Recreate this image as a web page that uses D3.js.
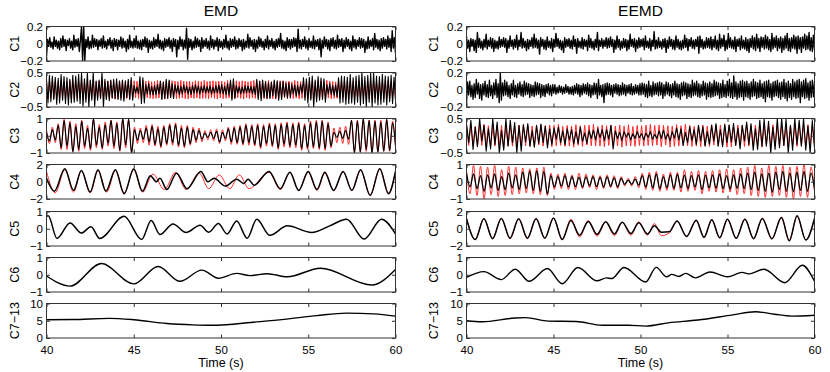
<!DOCTYPE html>
<html>
<head>
<meta charset="UTF-8">
<title>EMD / EEMD</title>
<script src="https://cdn.jsdelivr.net/npm/d3@7"></script>
<style>
  body { margin:0; background:#fff; }
  svg { display:block; font-family:"Liberation Sans", Arial, sans-serif; }
  .frame { fill:none; stroke:#333; stroke-width:1; }
  .tick line { stroke:#333; }
  .trace { fill:none; stroke-linejoin:round; }
</style>
</head>
<body>
<svg id="chart" width="830" height="372"></svg>
<script>
// ---------- data ----------
var titles = ["EMD", "EEMD"];
var rowNames = ["C1", "C2", "C3", "C4", "C5", "C6", "C7\u221213"];
var xTicks = [40, 45, 50, 55, 60];
var tk02 = [-0.2, 0, 0.2], lb02 = ["\u22120.2", "0", "0.2"];
var tk05 = [-0.5, 0, 0.5], lb05 = ["\u22120.5", "0", "0.5"];
var tk1 = [-1, 0, 1], lb1 = ["\u22121", "0", "1"];
var tk2 = [-2, 0, 2], lb2 = ["\u22122", "0", "2"];
var tk10 = [0, 5, 10], lb10 = ["0", "5", "10"];

// evenly sampled traces 40..60 s, values in hundredths (one row = one second)
var emdC1 = [-15,5,-3,7,-4,2,-6,8,-3,4,-5,3,-7,6,-4,9,
-3,5,-8,4,-2,6,-5,3,-7,10,-4,5,-3,6,-9,4,
20,-20,20,-20,5,-4,8,-6,3,-5,10,-4,6,-3,5,-7,
4,-3,6,-5,9,-4,3,-6,5,-2,7,-5,4,-8,6,-3,
5,-7,4,-3,8,-5,6,-4,3,-9,5,-6,10,-4,3,-5,
6,-4,9,-5,3,-6,4,-7,5,-3,8,-4,6,-10,4,-5,
3,-6,7,-4,5,-3,11,-5,4,-6,3,-8,6,-4,5,-3,
7,-5,4,-9,6,-3,5,-15,4,-6,8,-3,5,-7,4,-5,
18,-18,6,-4,5,-7,3,-5,8,-4,6,-3,4,-9,7,-5,
4,-3,6,-5,3,-7,9,-4,5,-6,4,-3,7,-8,5,-4,
3,-6,5,-4,10,-5,3,-7,6,-4,5,-3,8,-6,4,-5,
6,-3,4,-8,5,-6,3,-4,11,-5,7,-3,4,-6,5,-9,
4,-5,8,-3,6,-4,3,-7,5,-4,9,-6,4,-3,6,-5,
3,-7,5,-4,6,-3,12,-5,4,-6,3,-8,7,-4,5,-6,
5,-4,7,-3,6,-9,17,-5,4,-6,5,-3,8,-5,4,-7,
6,-4,3,-5,9,-6,4,-3,5,-7,6,-15,4,-5,8,-3,
5,-6,4,-8,6,-3,7,-5,4,-6,10,-4,5,-3,6,-9,
4,-5,7,-3,5,-6,3,-8,9,-4,5,-6,4,-3,7,-5,
6,-4,5,-10,3,-6,8,-5,4,-3,6,-7,12,-4,5,-6,
4,-8,6,-5,7,-3,5,-6,9,-4,6,-9,15,-5,7,-11];

var emdC2 = [30,-38,42,-35,40,-28,36,-42,33,-38,44,-30,
38,-40,35,-44,30,-38,42,-36,40,-33,45,-40,
50,-48,32,-36,50,-50,28,-30,50,-48,25,-30,
28,-25,50,-50,30,-28,25,-32,28,-24,30,-26,
32,-28,25,-30,28,-33,26,-22,30,-28,35,-30,
12,-10,8,-12,38,-40,35,-38,15,-12,18,-14,
10,-15,12,-14,16,-12,25,-28,22,-26,30,-24,
28,-22,18,-25,14,-10,12,-15,10,-12,14,-8,
10,-12,8,-14,12,-10,15,-9,11,-13,10,-8,
12,-10,9,-8,11,-13,7,-10,12,-9,14,-11,
15,-12,10,-14,18,-16,28,-30,32,-25,12,-10,
9,-12,8,-10,12,-9,11,-8,10,-12,9,-14,
30,-28,25,-32,28,-22,24,-26,20,-25,22,-18,
28,-24,26,-30,22,-28,25,-20,18,-24,20,-22,
15,-12,14,-18,12,-15,16,-10,35,-30,32,-38,
36,-30,40,-50,28,-35,38,-30,34,-28,32,-36,
15,-12,18,-14,12,-16,14,-20,35,-38,40,-36,
38,-42,36,-40,44,-38,35,-42,40,-36,42,-45,
50,-40,38,-50,42,-36,48,-50,50,-38,40,-44,
38,-42,45,-36,40,-44,38,-35,42,-40,36,-30];

var emdC2Red = [24,-26,25,-23,27,-25,24,-26,23,-25,26,-24,
25,-27,24,-25,26,-23,25,-26,27,-24,23,-25,
26,-24,25,-27,23,-25,26,-24,25,-26,24,-23,
25,-25,27,-24,24,-26,25,-23,26,-25,23,-27,
24,-25,26,-24,25,-27,23,-25,24,-26,27,-24,
26,-23,25,-26,24,-25,27,-24,25,-23,26,-25,
23,-26,24,-25,27,-24,25,-26,23,-25,24,-27,
25,-24,26,-23,25,-26,24,-25,27,-24,25,-26,
24,-27,25,-24,23,-25,26,-24,25,-26,24,-25,
27,-25,24,-26,25,-23,26,-25,24,-27,25,-24,
25,-26,23,-25,27,-24,25,-26,24,-25,26,-23,
24,-25,26,-27,25,-24,23,-26,25,-24,27,-25,
26,-24,25,-23,24,-26,25,-25,27,-24,23,-26,
25,-27,24,-25,26,-24,25,-23,24,-26,25,-25,
23,-25,27,-24,25,-26,24,-25,26,-23,25,-27,
24,-26,25,-24,23,-25,26,-27,25,-24,24,-26,
27,-24,25,-26,24,-25,23,-25,26,-24,25,-23,
25,-25,24,-27,26,-24,25,-26,24,-25,27,-24,
24,-26,25,-23,25,-27,24,-25,26,-24,23,-25,
26,-25,24,-26,25,-24,27,-25,24,-26,25,-24];

var emdC3 = [20,-30,35,-25,60,-70,
90,-60,75,-95,55,-80,
85,-60,45,-75,100,-55,
50,-70,65,-45,90,-60,
70,-85,100,-55,95,-100,
35,-25,30,-20,45,-35,
55,-50,40,-60,50,-45,
60,-40,65,-55,45,-60,
50,-45,35,-25,30,-20,
15,-10,20,-15,25,-35,
20,-15,40,-35,45,-40,
50,-45,60,-40,55,-50,
60,-65,55,-45,65,-55,
60,-70,65,-50,70,-60,
65,-55,70,-75,60,-70,
75,-65,80,-70,85,-75,
70,-60,20,-10,25,-15,
30,-20,90,-100,85,-95,
100,-80,90,-100,85,-95,
80,-90,95,-85,75,-55];

var emdC3Red = [35,-45,50,-40,70,-80,
95,-80,85,-90,70,-90,
90,-75,60,-85,95,-70,
65,-80,80,-60,90,-75,
80,-90,95,-70,95,-95,
50,-45,45,-40,60,-55,
65,-60,55,-70,60,-55,
70,-55,75,-65,60,-70,
60,-55,50,-40,45,-35,
30,-25,35,-30,40,-45,
35,-30,50,-50,55,-50,
60,-55,70,-55,65,-60,
70,-75,65,-60,75,-65,
70,-80,75,-65,80,-70,
75,-70,80,-85,70,-80,
85,-75,90,-80,90,-85,
80,-70,45,-40,50,-45,
55,-50,90,-95,90,-95,
95,-90,90,-95,90,-95,
90,-90,95,-90,85,-70];

// extrema of the slower traces: time (s) / value
var emdC4t = [40,40.45,41.05,41.55,42.0,42.5,42.95,43.4,43.95,44.45,45.0,45.5,45.95,46.3,46.5,46.9,47.45,48.05,48.85,49.25,49.6,50.25,50.9,51.3,51.55,51.9,52.75,53.4,53.95,54.45,55.0,55.5,55.95,56.45,57.0,57.5,58.0,58.55,59.1,59.6,60];
var emdC4v = [0.4,-1.1,1.5,-1.0,1.3,-1.2,1.4,-1.1,1.4,-1.4,1.5,-1.1,0.7,0.0,0.4,-0.9,1.0,-0.8,1.2,0.0,0.4,-0.5,0.3,-0.2,0.3,-0.4,1.2,-0.8,1.1,-1.0,1.2,-0.9,1.1,-1.0,1.2,-1.0,1.4,-1.6,1.5,-1.4,1.2];
var emdC4Rt = [40,40.5,41.05,41.55,42.0,42.5,42.95,43.45,43.95,44.45,45.0,45.5,46.1,46.75,47.4,48.0,48.75,49.3,49.9,50.5,51.05,51.6,52.75,53.4,53.95,54.45,55.0,55.5,55.95,56.45,57.0,57.5,58.0,58.55,59.1,59.6,60];
var emdC4Rv = [1.2,-1.3,1.4,-1.2,1.3,-1.3,1.3,-1.2,1.3,-1.3,1.4,-1.2,0.9,-0.9,1.1,-0.9,1.0,-0.8,0.8,-0.8,0.8,-0.8,1.1,-0.9,1.1,-1.0,1.1,-1.0,1.0,-1.0,1.1,-1.0,1.3,-1.5,1.5,-1.3,1.2];
var emdC5t = [40,40.1,40.6,41.35,42.0,42.55,43.05,44.45,45.45,46.0,46.5,47.25,48.0,48.8,49.3,49.85,50.35,50.9,51.5,52.05,52.8,53.8,55.2,56.2,57.2,58.2,59.2,60];
var emdC5v = [0.72,0.75,-0.56,0.33,-0.25,0.12,-0.56,0.72,-0.62,0.48,-0.33,0.28,-0.22,0.2,-0.2,0.3,-0.3,0.45,-0.55,0.55,-0.38,0.17,-0.22,0.15,0.55,-0.6,0.55,-0.3];
var emdC6t = [40,41.35,43.15,45.0,46.4,47.65,48.9,49.85,50.9,51.65,52.65,53.8,55.7,58.65,60];
var emdC6v = [-0.07,-0.66,0.65,-0.53,0.48,-0.38,0.27,-0.2,0.08,-0.05,0.06,-0.12,0.38,-0.59,0.31];
var emdC7t = [40,41.5,43.6,45,46.9,48.4,49.3,50.3,51.7,53.6,55.5,57.2,58.75,60];
var emdC7v = [5.3,5.35,5.7,5.3,4.2,3.8,3.7,3.85,4.5,5.4,6.5,7.2,7.0,6.35];

var eemdC1 = [8,-5,4,-9,6,-3,5,-8,4,-10,13,-4,6,-5,3,-7,
5,-4,11,-6,4,-3,7,-5,6,-9,4,-5,3,-6,8,-4,
5,-3,7,-4,6,-10,4,-5,9,-3,4,-6,5,-4,10,-7,
4,-3,13,-5,6,-4,3,-8,5,-6,4,-3,7,-5,11,-4,
6,-5,4,-12,7,-3,5,-6,4,-7,8,-4,3,-5,6,-9,
5,-4,12,-3,6,-5,4,-7,3,-10,7,-4,5,-3,6,-5,
4,-6,9,-3,5,-11,6,-4,3,-5,7,-6,5,-3,4,-8,
10,-4,6,-5,3,-7,5,-4,13,-8,4,-3,6,-5,4,-3,
7,-5,6,-4,8,-3,5,-10,4,-6,9,-4,5,-7,3,-5,
6,-4,5,-8,4,-6,11,-3,5,-4,6,-9,4,-5,7,-4,
5,-3,6,-7,9,-4,3,-5,6,-8,4,-3,14,-6,4,-5,
7,-4,3,-6,5,-4,6,-10,4,-5,8,-3,5,-6,4,-7,
9,-4,5,-6,3,-7,4,-5,10,-4,6,-8,5,-3,7,-5,
4,-6,5,-3,8,-11,9,-4,5,-6,3,-5,7,-4,6,-5,
8,-7,5,-4,9,-6,4,-8,11,-5,6,-3,10,-8,4,-6,
12,-4,7,-5,4,-6,8,-9,5,-3,6,-7,9,-5,4,-6,
7,-8,5,-10,6,-4,9,-6,7,-8,11,-5,6,-9,8,-4,
7,-6,10,-5,8,-7,5,-9,12,-6,7,-4,9,-8,6,-5,
8,-10,6,-7,9,-5,12,-8,6,-9,7,-5,10,-6,8,-11,
9,-6,7,-10,8,-5,11,-7,9,-6,13,-8,7,-9,10,-7];

var eemdC2 = [-17,9,-6,10,-8,5,-11,7,-9,12,-5,8,-10,6,-12,7,
-6,10,-8,6,-9,11,-7,5,-10,8,-6,12,-9,7,-15,20,
-12,8,-7,11,-6,9,-8,5,-10,7,-6,11,-8,5,-9,7,
-5,9,-7,6,-8,10,-6,8,-5,7,-9,6,-7,5,-8,9,
-6,8,-5,7,-9,6,-7,5,-8,6,-4,7,-6,5,-7,6,
-4,6,-5,3,-4,5,-3,4,-5,3,-4,6,-3,4,-5,3,
-5,4,-6,5,-4,7,-5,6,-8,5,-6,7,-4,6,-5,8,
-7,6,-9,5,-6,8,-5,7,-10,12,-6,5,-8,6,-15,7,
-6,8,-5,7,-6,5,-8,6,-4,7,-5,6,-7,5,-6,8,
-5,6,-7,5,-4,6,-5,7,-6,4,-5,6,-4,5,-6,7,
-6,8,-5,7,-8,6,-9,10,-7,5,-8,9,-6,7,-5,8,
-7,9,-6,8,-10,6,-7,9,-5,8,-7,6,-9,7,-6,10,
-8,7,-9,6,-11,8,-7,9,-6,8,-10,7,-8,6,-9,11,
-7,8,-6,10,-8,7,-9,6,-7,10,-6,8,-11,7,-8,9,
-9,7,-8,11,-7,9,-6,8,-10,7,-9,11,-8,6,-9,10,
-7,12,-9,8,-10,16,-8,9,-11,7,-9,10,-8,11,-12,9,
-8,10,-9,7,-11,9,-8,12,-7,9,-10,8,-9,11,-8,7,
-10,9,-14,10,-8,11,-9,7,-12,9,-8,10,-7,11,-9,8,
-11,9,-8,12,-10,8,-13,10,-9,7,-11,12,-8,9,-10,11,
-9,12,-15,9,-8,11,-10,13,-9,8,-12,10,-9,11,-8,10];

var eemdC3 = [35,-20,45,-40,25,-32,50,-15,
30,-45,20,-38,50,-25,40,-50,
15,-42,50,-30,45,-20,38,-50,
30,-45,32,-18,35,-30,15,-33,
30,-22,34,-20,28,-35,20,-25,
22,-10,25,-20,14,-26,20,-12,
18,-24,12,-22,25,-16,8,-22,
15,-8,16,-12,20,-6,18,-14,
18,-10,30,-38,14,-8,10,-14,
12,-4,8,-12,6,-8,12,-5,
6,-12,8,-5,12,-10,4,-8,
14,-8,16,-10,6,-15,12,-7,
22,-12,20,-28,10,-20,26,-14,
18,-25,30,-15,26,-30,12,-24,
30,-16,35,-30,18,-32,34,-20,
32,-18,36,-28,22,-38,30,-15,
40,-25,35,-42,20,-40,45,-30,
48,-30,42,-50,25,-40,50,-35,
50,-28,48,-50,30,-42,50,-25,
45,-30,50,-42,28,-50,44,-35];

var eemdC3Red = [30,-28,32,-29,27,-31,30,-28,
33,-30,29,-32,28,-30,31,-27,
30,-33,28,-29,31,-30,27,-32,
30,-28,33,-29,30,-31,28,-31,
30,-27,32,-30,29,-28,31,-32,
30,-29,33,-28,27,-31,30,-30,
28,-33,32,-28,29,-31,30,-27,
31,-29,33,-30,27,-30,31,-32,
29,-28,30,-31,28,-29,31,-33,
28,-29,32,-30,27,-31,30,-28,
29,-30,31,-28,33,-29,30,-27,
31,-32,30,-27,29,-33,28,-31,
32,-30,29,-28,33,-29,30,-31,
27,-30,28,-32,31,-29,28,-31,
32,-27,30,-29,31,-30,28,-33,
30,-32,27,-29,31,-28,30,-31,
33,-30,29,-28,31,-30,28,-33,
29,-27,30,-31,32,-30,28,-31,
30,-29,27,-32,31,-28,30,-31,
33,-28,29,-30,32,-29,28,-30];

var eemdC4 = [50,-30,45,-40,35,-55,40,-35,45,-50,
30,-45,50,-35,40,-45,55,-40,60,-50,
65,-55,60,-70,35,-30,30,-25,35,-30,
30,-28,25,-30,28,-22,30,-28,25,-30,
28,-25,22,-30,20,-15,10,-15,15,-20,
35,-30,40,-35,45,-40,30,-35,40,-38,
42,-35,38,-40,35,-30,40,-45,38,-35,
40,-38,45,-40,35,-42,40,-38,45,-40,
50,-45,55,-50,45,-55,50,-60,55,-45,
60,-55,50,-58,55,-50,60,-55,50,-40];

var eemdC4Red = [60,-70,95,-80,90,-100,85,-75,95,-85,
70,-80,90,-75,85,-70,80,-65,75,-70,
80,-75,85,-80,50,-45,45,-40,50,-45,
40,-45,50,-40,45,-35,40,-45,35,-40,
40,-35,35,-40,30,-25,20,-25,30,-35,
50,-45,55,-50,60,-55,45,-50,55,-50,
55,-60,70,-55,60,-50,65,-70,60,-55,
65,-60,70,-65,75,-60,70,-75,80,-70,
85,-80,95,-85,80,-90,95,-85,90,-80,
95,-90,85,-100,90,-85,100,-90,85,-60];

var eemdC5t = [40,40.5,41.0,41.5,42.0,42.5,43.0,43.5,44.0,44.5,45.0,45.5,46.0,46.5,47.0,47.5,48.0,48.5,48.95,49.45,49.9,50.4,50.8,51.2,51.65,52.1,52.65,53.2,53.65,54.1,54.55,55.0,55.5,56.0,56.5,57.0,57.55,58.1,58.55,59.0,59.5,60];
var eemdC5v = [1.15,-1.25,1.15,-1.15,1.2,-1.1,1.15,-1.1,1.15,-1.1,1.25,-1.25,0.95,-0.75,0.85,-0.65,0.8,-0.6,0.75,-0.55,0.7,-0.6,0.35,-0.4,-0.35,0.9,-0.9,1.0,-1.0,1.05,-1.05,1.1,-1.1,1.1,-1.15,1.2,-1.15,1.3,-1.4,1.5,-1.3,1.2];
var eemdC5Rv = [1.3,-1.25,1.2,-1.15,1.2,-1.15,1.15,-1.15,1.2,-1.1,1.2,-1.2,1.1,-0.95,0.95,-0.85,0.8,-0.8,0.75,-0.75,0.8,-0.75,0.6,-0.8,-0.5,0.85,-0.85,0.95,-0.95,1.0,-1.05,1.1,-1.1,1.15,-1.15,1.2,-1.2,1.35,-1.4,1.45,-1.3,1.2];
var eemdC6t = [40,41.0,42.0,42.8,43.6,44.65,45.5,46.4,47.5,48.05,48.35,49.05,50.3,50.9,51.5,51.8,52.2,52.6,53.15,54.0,55.0,55.85,56.2,57.1,58.3,59.3,60];
var eemdC6v = [-0.15,0.18,-0.28,0.32,-0.38,0.36,-0.52,0.42,-0.35,-0.18,-0.22,0.42,-0.42,0.43,-0.12,0.02,-0.1,0.08,-0.18,0.16,-0.12,0.14,0.05,0.32,-0.46,0.55,-0.38];
var eemdC7t = [40,40.9,42.8,43.4,44.7,46.3,47.8,49.3,50.3,51.6,53.3,55.3,56.6,57.7,58.7,60];
var eemdC7v = [5.0,4.7,5.8,5.9,4.9,4.8,3.7,3.7,3.45,4.4,5.2,6.7,7.6,6.9,6.35,6.6];

// ---------- helpers ----------
function even(vals, unit) {
    return vals.map(function (v, i) { return [40 + 20 * i / (vals.length - 1), v * unit]; });
}
function paired(ts, vs) {
    return ts.map(function (t, i) { return [t, vs[i]]; });
}
var BLACK = "#000", RED = "#ff1a1a";
var lin = d3.curveLinear, smooth = d3.curveMonotoneX;
function tr(pts, color, w, curve) { return {pts: pts, color: color, w: w, curve: curve}; }

var columns = [
  {x0: 46.5, x1: 395.5, labelX: 19, panels: [
    {ticks: tk02, labels: lb02, series: [tr(even(emdC1, 0.01), BLACK, 1.4, lin)]},
    {ticks: tk05, labels: lb05, series: [tr(even(emdC2Red, 0.01), RED, 0.9, lin), tr(even(emdC2, 0.01), BLACK, 1.1, lin)]},
    {ticks: tk1, labels: lb1, series: [tr(even(emdC3Red, 0.01), RED, 0.9, smooth), tr(even(emdC3, 0.01), BLACK, 1.2, smooth)]},
    {ticks: tk2, labels: lb2, series: [tr(paired(emdC4Rt, emdC4Rv), RED, 0.9, smooth), tr(paired(emdC4t, emdC4v), BLACK, 1.5, smooth)]},
    {ticks: tk1, labels: lb1, series: [tr(paired(emdC5t, emdC5v), BLACK, 1.5, smooth)]},
    {ticks: tk1, labels: lb1, series: [tr(paired(emdC6t, emdC6v), BLACK, 1.4, smooth)]},
    {ticks: tk10, labels: lb10, series: [tr(paired(emdC7t, emdC7v), BLACK, 1.4, smooth)]}
  ]},
  {x0: 466.5, x1: 814.5, labelX: 438, panels: [
    {ticks: tk02, labels: lb02, series: [tr(even(eemdC1, 0.01), BLACK, 1.4, lin)]},
    {ticks: tk02, labels: lb02, series: [tr(even(eemdC2, 0.01), BLACK, 1.3, lin)]},
    {ticks: tk05, labels: lb05, series: [tr(even(eemdC3Red, 0.01), RED, 0.9, lin), tr(even(eemdC3, 0.01), BLACK, 1.1, lin)]},
    {ticks: tk1, labels: lb1, series: [tr(even(eemdC4Red, 0.01), RED, 0.9, smooth), tr(even(eemdC4, 0.01), BLACK, 1.3, smooth)]},
    {ticks: tk2, labels: lb2, series: [tr(paired(eemdC5t, eemdC5Rv), RED, 0.9, smooth), tr(paired(eemdC5t, eemdC5v), BLACK, 1.5, smooth)]},
    {ticks: tk1, labels: lb1, series: [tr(paired(eemdC6t, eemdC6v), BLACK, 1.4, smooth)]},
    {ticks: tk10, labels: lb10, series: [tr(paired(eemdC7t, eemdC7v), BLACK, 1.4, smooth)]}
  ]}
];

// ---------- drawing ----------
var svg = d3.select("#chart");
var rowTop = 25.5, rowStep = 46.3, rowH = 34.5;

columns.forEach(function (col, ci) {
    var x = d3.scaleLinear().domain([40, 60]).range([col.x0, col.x1]);

    svg.append("text")
        .attr("x", (col.x0 + col.x1) / 2).attr("y", 15.5)
        .attr("text-anchor", "middle").attr("font-size", 15.5)
        .text(titles[ci]);

    col.panels.forEach(function (p, ri) {
        var top = Math.round(rowTop + ri * rowStep) + 0.5;
        var bot = top + rowH;
        var y = d3.scaleLinear().domain([p.ticks[0], p.ticks[p.ticks.length - 1]]).range([bot, top]);
        var g = svg.append("g");
        var clipId = "clip" + ci + "_" + ri;

        g.append("clipPath").attr("id", clipId)
            .append("rect").attr("x", col.x0).attr("y", top)
            .attr("width", col.x1 - col.x0).attr("height", rowH);

        var line = d3.line().x(function (d) { return x(d[0]); }).y(function (d) { return y(d[1]); });
        p.series.forEach(function (s) {
            g.append("path")
                .attr("class", "trace")
                .attr("clip-path", "url(#" + clipId + ")")
                .attr("stroke", s.color)
                .attr("stroke-width", s.w)
                .attr("d", line.curve(s.curve)(s.pts));
        });

        // y axes, ticks pointing inward
        var yl = g.append("g").attr("transform", "translate(" + col.x0 + ",0)")
            .call(d3.axisLeft(y).tickValues(p.ticks).tickSize(-3.5).tickPadding(3.5)
                .tickFormat(function (d, i) { return p.labels[i]; }));
        var yr = g.append("g").attr("transform", "translate(" + col.x1 + ",0)")
            .call(d3.axisRight(y).tickValues(p.ticks).tickSize(-3.5).tickFormat(""));

        var last = ri === col.panels.length - 1;
        var xb = g.append("g").attr("transform", "translate(0," + bot + ")")
            .call(d3.axisBottom(x).tickValues(xTicks).tickSize(-3.5).tickPadding(8)
                .tickFormat(last ? d3.format("d") : ""));
        var xt = g.append("g").attr("transform", "translate(0," + top + ")")
            .call(d3.axisTop(x).tickValues(xTicks).tickSize(-3.5).tickFormat(""));

        [yl, yr, xb, xt].forEach(function (a) {
            a.select(".domain").remove();
            a.selectAll("text").attr("font-size", 11.5).attr("fill", "#000")
                .attr("font-family", "Liberation Sans, Arial, sans-serif");
        });

        g.append("rect").attr("class", "frame")
            .attr("x", col.x0).attr("y", top)
            .attr("width", col.x1 - col.x0).attr("height", rowH);

        g.append("text")
            .attr("transform", "translate(" + col.labelX + "," + (top + bot) / 2 + ") rotate(-90)")
            .attr("text-anchor", "middle").attr("font-size", 12.5)
            .text(rowNames[ri]);
    });

    svg.append("text")
        .attr("x", (col.x0 + col.x1) / 2).attr("y", 367)
        .attr("text-anchor", "middle").attr("font-size", 12.5)
        .text("Time (s)");
});
</script>
</body>
</html>
